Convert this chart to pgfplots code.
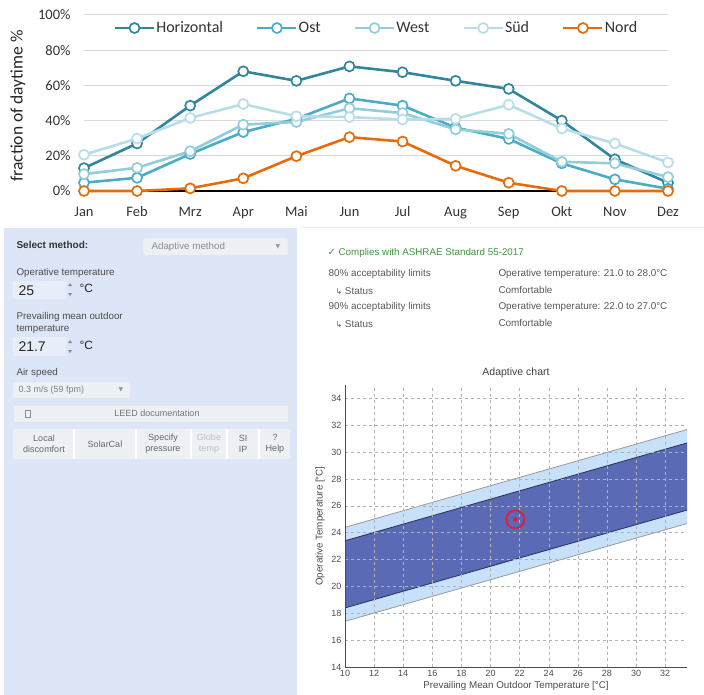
\documentclass[border=0pt]{standalone}
\usepackage{pgfplots}
\usepackage{pgfplotstable}
\pgfplotsset{compat=1.18}
\usepackage{fontspec}
\setmainfont{Carlito}
\newfontfamily\ui{Liberation Sans}
\newfontfamily\sym{DejaVu Sans}
\definecolor{cH}{HTML}{31859C}
\definecolor{cO}{HTML}{4BACC6}
\definecolor{cW}{HTML}{92CDDC}
\definecolor{cS}{HTML}{B7DEE8}
\definecolor{cN}{HTML}{E46C0A}
\definecolor{panel}{RGB}{221,230,246}
\definecolor{btn}{RGB}{237,240,245}
\definecolor{band80}{RGB}{200,225,250}
\definecolor{band90}{RGB}{90,106,180}
\definecolor{uitext}{RGB}{75,75,75}
\definecolor{okgreen}{RGB}{60,150,60}
\definecolor{ring}{RGB}{220,30,60}

\pgfplotstableread{
m H O W S N
0 13 4.7 9.6 20.6 0
1 27 7.5 13.2 29.8 0
2 48.5 21 22.6 41.5 1.5
3 68 33.5 37.7 49.4 7.2
4 62.6 41 39.2 42.5 19.8
5 70.8 52.6 47 42 30.6
6 67.5 48.5 44.3 40.6 28.1
7 62.6 36 35 41 14.3
8 58 29.6 32.5 49 4.7
9 40 15.7 16.6 35.5 0
10 18 6.6 15.7 27 0
11 4.7 1.3 7.9 16.2 0
}\monthdata

\begin{document}
\begin{tikzpicture}
\path[use as bounding box] (0pt,0pt) rectangle (704pt,-695pt);

% ---------------- top line chart ----------------
\begin{axis}[
  at={(84pt,-191pt)}, anchor=south west,
  scale only axis, width=584pt, height=176pt,
  xmin=0, xmax=11, ymin=0, ymax=100,
  clip=false,
  axis x line*=bottom, axis y line*=left,
  y axis line style={draw=none},
  x axis line style={black, line width=1.2pt, -},
  xtick={0,...,11},
  xticklabels={Jan,Feb,Mrz,Apr,Mai,Jun,Jul,Aug,Sep,Okt,Nov,Dez},
  ytick={0,20,...,100},
  yticklabels={0\%,20\%,40\%,60\%,80\%,100\%},
  major tick length=0pt,
  ymajorgrids, grid style={draw=black!15, line width=1pt},
  tick label style={font=\fontsize{14.5}{15}\selectfont, text=black!80},
  xticklabel style={anchor=north, text height=10pt, text depth=3pt, yshift=-12pt},
  yticklabel style={xshift=-10pt},
  ylabel={fraction of daytime \%},
  ylabel style={font=\fontsize{17.5}{17.5}\selectfont, text=black!85, at={(axis description cs:-0.113,0.483)}, anchor=center},
  legend style={at={(0.5,0.926)}, anchor=center, draw=none, fill=none,
    legend columns=5, font=\fontsize{16}{16}\selectfont, text=black!80,
    nodes={inner xsep=1pt},
    /tikz/every even column/.append style={column sep=32pt}},
  legend image code/.code={\draw[#1, mark repeat=2, mark phase=2] plot coordinates {(0pt,0pt) (19.5pt,0pt) (39pt,0pt)};},
  every axis plot/.append style={line width=2.6pt, mark=*, mark size=5pt, mark options={fill=white, line width=1.7pt}},
]
\addplot[color=cH] table[x=m,y=H]{\monthdata}; \addlegendentry{Horizontal}
\addplot[color=cO] table[x=m,y=O]{\monthdata}; \addlegendentry{Ost}
\addplot[color=cW] table[x=m,y=W]{\monthdata}; \addlegendentry{West}
\addplot[color=cS] table[x=m,y=S]{\monthdata}; \addlegendentry{Süd}
\addplot[color=cN] table[x=m,y=N]{\monthdata}; \addlegendentry{Nord}
\end{axis}

% ---------------- UI panel ----------------
\begin{scope}[x=1pt,y=-1pt, font=\ui\fontsize{9.8}{11}\selectfont, text=uitext]
\draw[black!7] (300,227) -- (704,227);
\fill[panel] (4,228) rectangle (297,695);
\node[anchor=west, font=\ui\bfseries\fontsize{10}{12}\selectfont, text=black!80] at (13,245) {Select method:};
\draw[draw=black!10, fill=btn, rounded corners=1.5pt] (143,238) rectangle (288,255);
\node[anchor=west, text=black!45] at (148,246.5) {Adaptive method};
\node[text=black!40, font=\sym\fontsize{6}{6}\selectfont] at (278,246.5) {▼};

\node[anchor=west] at (13,273) {Operative temperature};
\fill[white, opacity=0.35] (13,281) rectangle (66,299);
\node[anchor=west, font=\ui\fontsize{14}{14}\selectfont, text=black!85] at (15,290.5) {25};
\fill[black!45] (68,286) -- (72,286) -- (70,283) -- cycle;
\fill[black!45] (68,293) -- (72,293) -- (70,296) -- cycle;
\node[anchor=west, font=\ui\fontsize{12}{12}\selectfont, text=black!85] at (76,288.5) {°C};

\node[anchor=west] at (13,317) {Prevailing mean outdoor};
\node[anchor=west] at (13,329) {temperature};
\fill[white, opacity=0.35] (13,337) rectangle (66,356);
\node[anchor=west, font=\ui\fontsize{14}{14}\selectfont, text=black!85] at (15,347) {21.7};
\fill[black!45] (68,343) -- (72,343) -- (70,340) -- cycle;
\fill[black!45] (68,350) -- (72,350) -- (70,353) -- cycle;
\node[anchor=west, font=\ui\fontsize{12}{12}\selectfont, text=black!85] at (76,345) {°C};

\node[anchor=west] at (13,373) {Air speed};
\draw[draw=black!10, fill=btn, rounded corners=1.5pt] (13,382) rectangle (130,398);
\node[anchor=west, text=black!50, font=\ui\fontsize{9}{11}\selectfont] at (15,390) {0.3 m/s (59 fpm)};
\node[text=black!40, font=\sym\fontsize{6}{6}\selectfont] at (121,390) {▼};

\draw[draw=black!10, fill=btn] (13,405) rectangle (288,422);
\draw[black!45, line width=0.5pt] (25,410) rectangle (30,417);
\node[text=black!55, font=\ui\fontsize{9}{11}\selectfont] at (157,413.5) {LEED documentation};

\fill[btn] (13,429) rectangle (290,459);
\foreach \xx in {74,136,191,227,259} {\draw[white, line width=1.2pt] (\xx,429) -- (\xx,459);}
\begin{scope}[font=\ui\fontsize{9}{11}\selectfont, text=black!60]
\node[align=center] at (44,444) {Local\\discomfort};
\node at (105,444) {SolarCal};
\node[align=center] at (163,444) {Specify\\pressure};
\node[align=center, text=black!25] at (209,444) {Globe\\temp};
\node[align=center] at (243,444) {SI\\IP};
\node[align=center] at (275,444) {?\\Help};
\end{scope}

% ---------------- result text ----------------
\node[anchor=west, text=okgreen, font=\ui\fontsize{9.8}{11}\selectfont] at (324,253) {{\sym\fontsize{10}{10}\selectfont ✓} Complies with ASHRAE Standard 55-2017};
\begin{scope}[font=\ui\fontsize{9.9}{11}\selectfont, text=black!65]
\node[anchor=west] at (325,274) {80\% acceptability limits};
\node[anchor=west] at (332,291) {{\sym\fontsize{8}{8}\selectfont ↳} Status};
\node[anchor=west] at (325,307) {90\% acceptability limits};
\node[anchor=west] at (332,324) {{\sym\fontsize{8}{8}\selectfont ↳} Status};
\node[anchor=west] at (495,274) {Operative temperature: 21.0 to 28.0°C};
\node[anchor=west] at (495,290) {Comfortable};
\node[anchor=west] at (495,307) {Operative temperature: 22.0 to 27.0°C};
\node[anchor=west] at (495,323) {Comfortable};
\end{scope}
\end{scope}

% ---------------- adaptive chart ----------------
\begin{axis}[
  at={(345pt,-667pt)}, anchor=south west,
  scale only axis, width=342pt, height=282pt,
  xmin=10, xmax=33.5, ymin=14, ymax=35,
  xtick={10,12,...,32}, ytick={14,16,...,34},
  /pgf/number format/assume math mode=true,
  axis x line*=bottom, axis y line*=left,
  axis line style={black!70, line width=0.9pt, -},
  major tick length=0pt,
  grid=major, grid style={dashed, black!30, line width=0.5pt},
  axis on top,
  tick label style={font=\ui\fontsize{9}{9}\selectfont, text=black!70},
  xlabel={Prevailing Mean Outdoor Temperature [°C]},
  ylabel={Operative Temperature [°C]},
  label style={font=\ui\fontsize{9.8}{10}\selectfont, text=black!70},
  xlabel style={yshift=2pt},
  title={Adaptive chart},
  title style={font=\ui\fontsize{10.5}{11}\selectfont, text=black!75, yshift=-2pt},
]
\addplot[draw=none, fill=band80] coordinates {(10,17.4) (33.5,24.685) (33.5,31.685) (10,24.4)} -- cycle;
\addplot[draw=none, fill=band90] coordinates {(10,18.4) (33.5,25.685) (33.5,30.685) (10,23.4)} -- cycle;
\addplot[black!40, line width=0.8pt] coordinates {(10,17.4) (33.5,24.685)};
\addplot[black!40, line width=0.8pt] coordinates {(10,24.4) (33.5,31.685)};
\addplot[band90!45!black, line width=0.8pt] coordinates {(10,18.4) (33.5,25.685)};
\addplot[band90!45!black, line width=0.8pt] coordinates {(10,23.4) (33.5,30.685)};
\addplot[only marks, mark=o, mark size=9pt, mark options={draw=ring, line width=1.8pt}] coordinates {(21.7,25)};
\addplot[only marks, mark=*, mark size=2pt, mark options={draw=ring, fill=ring}] coordinates {(21.7,25)};
\end{axis}
\end{tikzpicture}
\end{document}
